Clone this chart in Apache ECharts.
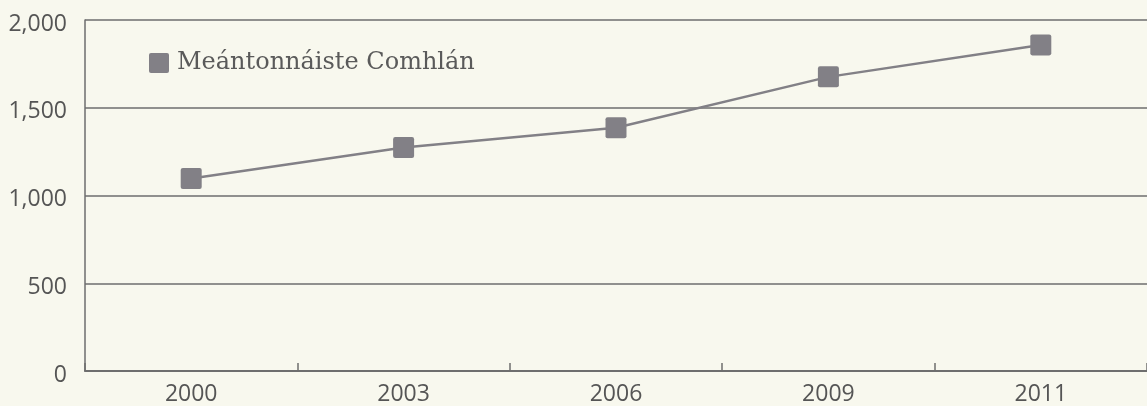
<!DOCTYPE html>
<html>
<head>
<meta charset="utf-8">
<script src="https://cdn.jsdelivr.net/npm/echarts@6/dist/echarts.min.js"></script>
<style>
  html, body { margin: 0; padding: 0; background: #f8f8ee; }
  #chart { width: 1147px; height: 406px; }
</style>
</head>
<body>
<div id="chart"></div>
<script>
const years = ['2000', '2003', '2006', '2009', '2011'];
const avgTonnage = [1097, 1273, 1386, 1676, 1858];
const seriesName = 'Meántonnáiste Comhlán';

const squareIcon = 'path://M2,0 H18 Q20,0 20,2 V18 Q20,20 18,20 H2 Q0,20 0,18 V2 Q0,0 2,0 Z';

const chart = echarts.init(document.getElementById('chart'));

const option = {
  backgroundColor: '#f8f8ee',
  animation: false,
  grid: { left: 85, right: 0, top: 20, bottom: 34 },
  legend: {
    left: 144,
    top: 46,
    itemWidth: 20,
    itemHeight: 20,
    itemGap: 6,
    icon: squareIcon,
    data: [seriesName],
    textStyle: { fontFamily: 'DejaVu Serif', fontSize: 24, color: '#5a5a5a', padding: [0, 0, 0, 3] }
  },
  xAxis: {
    type: 'category',
    data: years,
    boundaryGap: true,
    axisLine: { lineStyle: { color: '#6e6e6e', width: 2 } },
    axisTick: { show: true, interval: 0, inside: true, length: 8, lineStyle: { color: '#6e6e6e', width: 1.5 } },
    axisLabel: { fontFamily: 'Open Sans', fontSize: 23, color: '#555', margin: 12 }
  },
  yAxis: {
    type: 'value',
    min: 0,
    max: 2000,
    interval: 500,
    axisLine: { show: true, lineStyle: { color: '#6e6e6e', width: 1.5 } },
    axisTick: { show: false },
    splitLine: { lineStyle: { color: '#6e6e6e', width: 1.5 } },
    axisLabel: {
      fontFamily: 'Open Sans', fontSize: 23, color: '#555', margin: 18,
      verticalAlign: 'top',
      lineHeight: 8,
      formatter: v => v.toLocaleString('en-US')
    }
  },
  series: [{
    name: seriesName,
    type: 'line',
    data: avgTonnage,
    symbol: squareIcon,
    symbolSize: 21,
    itemStyle: { color: '#828086' },
    lineStyle: { color: '#828086', width: 2.5 }
  }]
};

chart.setOption(option);
</script>
</body>
</html>
